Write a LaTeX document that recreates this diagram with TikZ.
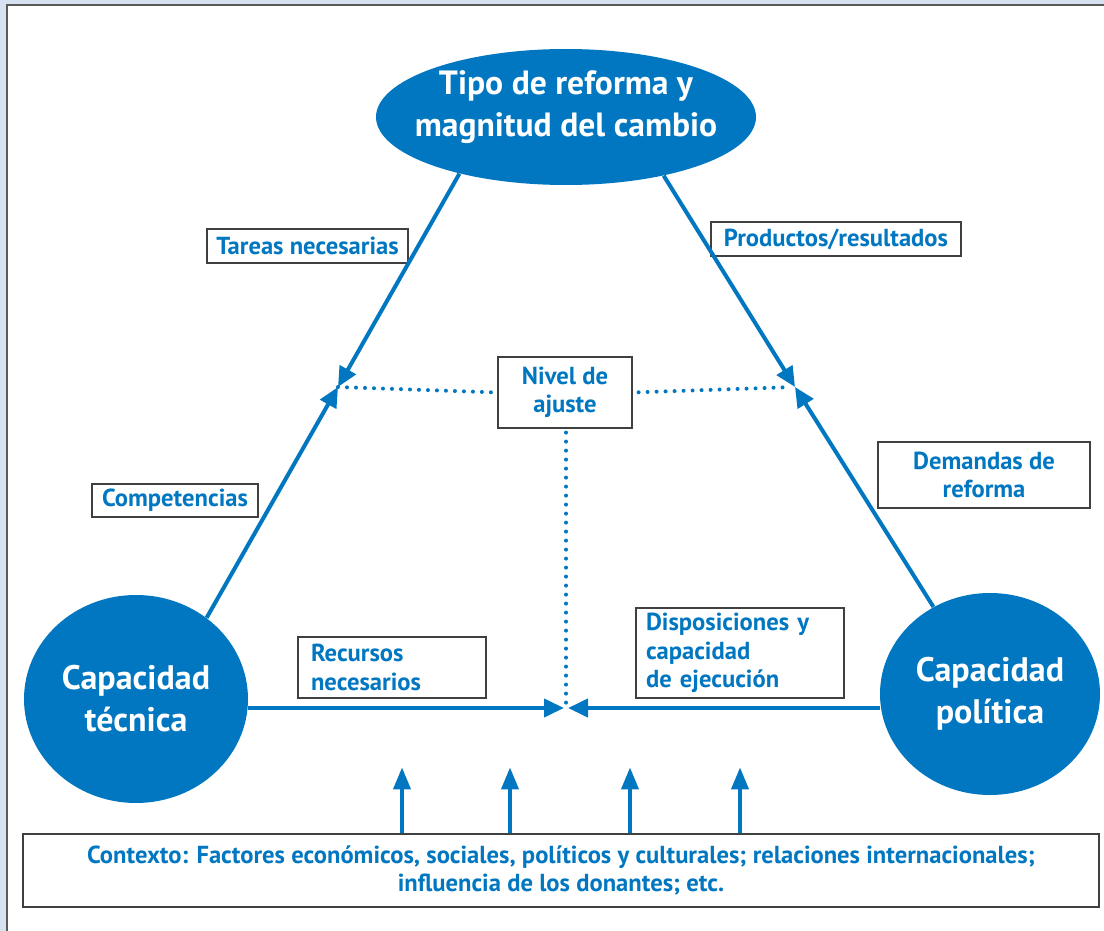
\documentclass[tikz,border=0pt]{standalone}
\usepackage{fontspec}
\setmainfont{PT Sans}
\usetikzlibrary{shapes,arrows.meta,positioning}
\definecolor{refblue}{RGB}{0,119,192}
\definecolor{framebg}{RGB}{214,226,242}
\definecolor{framegray}{RGB}{90,90,90}

\begin{document}
\begin{tikzpicture}[
    x=0.5pt, y=-0.5pt,
    capacity/.style={
        ellipse,
        fill=refblue,
        text=white,
        align=center,
        inner sep=0pt,
        font=\bfseries\fontsize{17}{21}\selectfont
    },
    tag/.style={
        rectangle,
        draw=black!75,
        line width=0.6pt,
        fill=white,
        text=refblue,
        align=center,
        inner sep=2pt,
        font=\bfseries\fontsize{12.3}{14.2}\selectfont
    },
    arrow/.style={-{Triangle[length=10pt,width=9pt]}, line width=2pt, draw=refblue},
    uparrow/.style={-{Triangle[length=11pt,width=8.5pt]}, line width=2pt, draw=refblue},
    dots/.style={draw=refblue, line width=2pt, line cap=round, dash pattern=on 0pt off 4.5pt}
]

% Frame
\useasboundingbox (0,0) rectangle (1104,931);
\fill[framebg] (0,0) rectangle (1104,931);
\fill[white] (7,5) rectangle (1104,931);
\draw[framegray, line width=1pt] (7,931) -- (7,5) -- (1104,5);

% Capacities
\node[capacity, minimum width=190pt, minimum height=68pt] (tipo) at (566,117) {};
\node[text=white, align=center, font=\bfseries\fontsize{16.8}{21}\selectfont] (tipotext) at ([yshift=5pt]tipo.center) {Tipo de reforma y\\magnitud del cambio};
\node[capacity, minimum width=112pt, minimum height=104pt] (tecnica) at (136,699) {Capacidad\\técnica};
\node[capacity, minimum width=110pt, minimum height=101pt] (politica) at (990,694) {Capacidad\\política};

% Meeting points
\coordinate (meetL) at (338,387);
\coordinate (meetR) at (795,387);
\coordinate (meetB) at (566,708);

% Labels
\node[tag, minimum width=100.5pt, minimum height=17pt] (tareas) at (307.5,246) {Tareas necesarias};
\node[tag, minimum width=125pt, minimum height=17pt] (productos) at (836,239) {Productos/resultados};
\node[tag, minimum width=83pt, minimum height=16.5pt] (competencias) at (175,500.5) {Competencias};
\node[tag, minimum width=106pt, minimum height=33pt] (demandas) at (984,475) {Demandas de\\reforma};
\node[tag, align=left, text width=81pt, inner xsep=6.5pt, minimum height=30.5pt] (recursos) at (392,667.5) {Recursos\\necesarios};
\node[tag, align=left, text width=94pt, inner xsep=5pt, minimum height=45pt] (disposiciones) at (740,653) {Disposiciones y\\capacidad\\de ejecución};
\node[tag, minimum width=67pt, minimum height=35.5pt] (ajuste) at (565,392.5) {Nivel de\\ajuste};
\node[tag, minimum width=538pt, minimum height=36.5pt] (contexto) at (561,870.5) {Contexto: Factores económicos, sociales, políticos y culturales; relaciones internacionales;\\influencia de los donantes; etc.};

% Arrows to the meeting points
\draw[arrow] (tipo.208) -- (meetL);
\draw[arrow] (tecnica.49) -- (meetL);
\draw[arrow] (tipo.329) -- (meetR);
\draw[arrow] (politica.123) -- (meetR);
\draw[arrow] (tecnica.east |- meetB) -- ([xshift=-1pt]meetB);
\draw[arrow] (politica.west |- meetB) -- ([xshift=1pt]meetB);

% Nivel de ajuste
\draw[dots, shorten >=3pt] (meetL) -- (ajuste.west);
\draw[dots, shorten <=3pt, shorten >=2pt] (ajuste.east) -- (meetR);
\draw[dots, shorten <=2pt, shorten >=2pt] (ajuste.south -| meetB) -- (meetB);

% Context
\foreach \x in {402,510,630,740}
    \draw[uparrow] (contexto.north -| \x,0) -- ++(0,-66);

\end{tikzpicture}
\end{document}
